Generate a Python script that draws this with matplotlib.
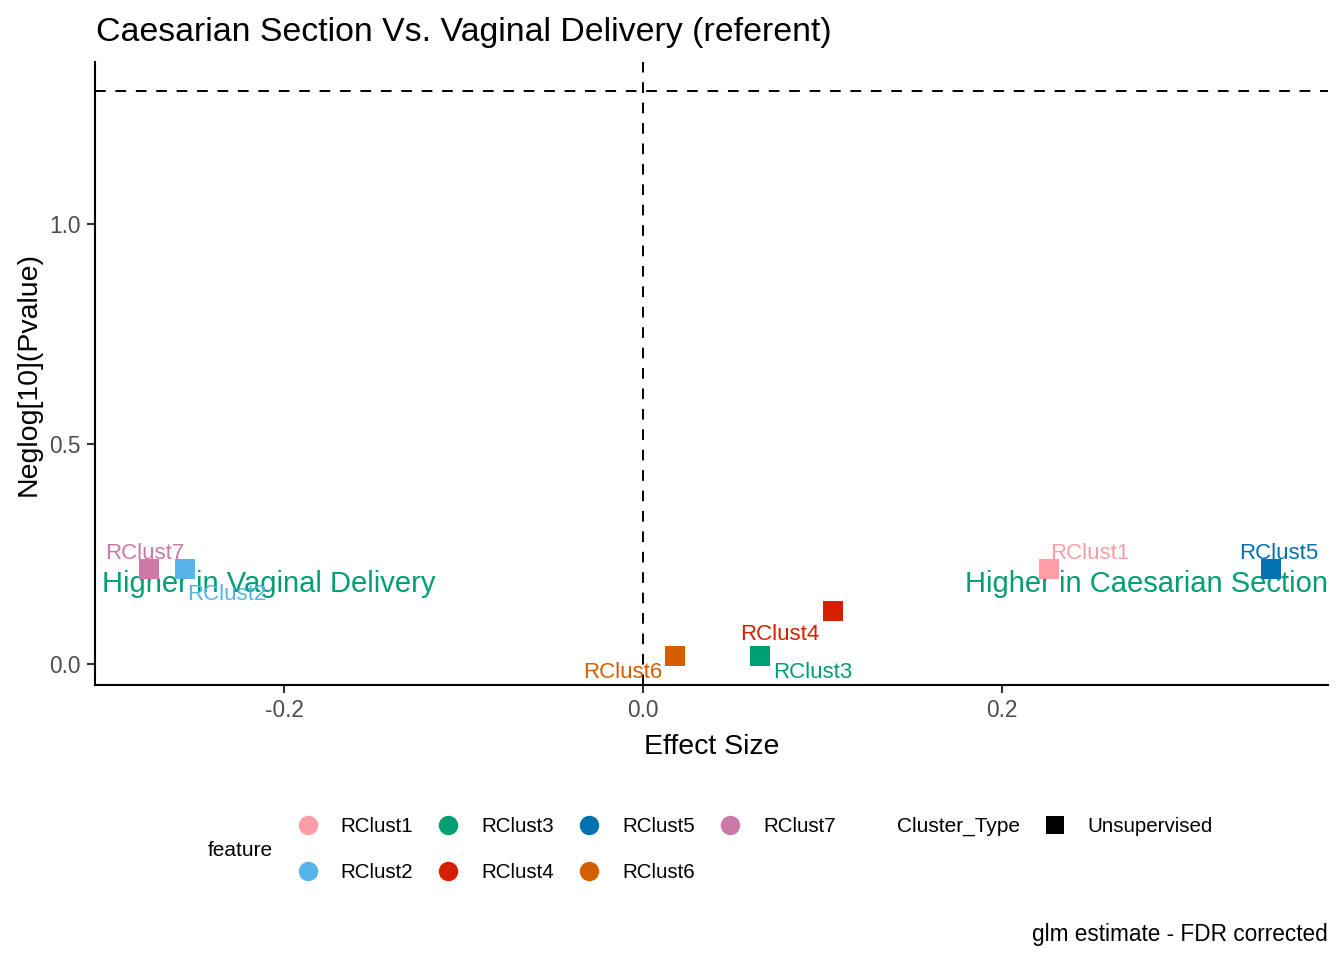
import matplotlib
matplotlib.use("Agg")
import matplotlib.pyplot as plt
from matplotlib.lines import Line2D

plt.rcParams['font.family'] = ['Liberation Sans', 'DejaVu Sans']

# -----------------------------
# Data
# -----------------------------
features = ["RClust1", "RClust2", "RClust3", "RClust4", "RClust5", "RClust6", "RClust7"]
effect = [0.226, -0.255, 0.065, 0.106, 0.350, 0.018, -0.275]
neglogp = [0.216, 0.216, 0.018, 0.120, 0.216, 0.018, 0.216]
colors = ["#FF9DA7", "#56B4E9", "#009E73", "#D52000", "#0072B2", "#D55E00", "#CC79A7"]
# label offsets (pixels) as placed by the repel step
label_dx = [41, 41, 53, -54, 7, -53, -5]
label_dy = [15, -26, -16, -23, 15, -16, 15]

x_ticks = [-0.2, 0.0, 0.2]
y_ticks = [0.0, 0.5, 1.0]
sig_line = 1.30103  # -log10(0.05)

fig = plt.figure(figsize=(13.44, 9.6), dpi=100)
ax = fig.add_axes([95 / 1344, 1 - 685 / 960, (1328 - 95) / 1344, (685 - 62) / 960])

ax.axvline(0, color="black", lw=1.4, ls=(0, (5.5, 5)), zorder=1)
ax.axhline(sig_line, color="black", lw=1.4, ls=(0, (5.5, 5)), zorder=1)

for f, x, y, c, dx, dy in zip(features, effect, neglogp, colors, label_dx, label_dy):
    ax.scatter([x], [y], marker="s", s=190, color=c, zorder=3, linewidths=0)
    ax.annotate(f, (x, y), xytext=(dx, dy), textcoords="offset pixels",
                ha="center", va="center", color=c, fontsize=16, zorder=4)

ax.text(0.006, 0.216 - 0.034, "Higher in Vaginal Delivery", transform=ax.get_yaxis_transform(),
        ha="left", va="center", color="#009E73", fontsize=21, zorder=2)
ax.text(1.0, 0.216 - 0.034, "Higher in Caesarian Section", transform=ax.get_yaxis_transform(),
        ha="right", va="center", color="#009E73", fontsize=21, zorder=2)

ax.set_xlim(-0.3053, 0.3816)
ax.set_ylim(-0.0477, 1.368)
ax.set_xticks(x_ticks)
ax.set_xticklabels([f"{v:.1f}" for v in x_ticks])
ax.set_yticks(y_ticks)
ax.set_yticklabels([f"{v:.1f}" for v in y_ticks])

for s in ["top", "right"]:
    ax.spines[s].set_visible(False)
for s in ["left", "bottom"]:
    ax.spines[s].set_linewidth(1.5)
    ax.spines[s].set_color("black")
ax.tick_params(axis="both", length=6, width=1.5, color="#333333",
               labelcolor="#4D4D4D", labelsize=16.3, pad=4)

ax.set_xlabel("Effect Size", fontsize=20.5, labelpad=9)
ax.set_ylabel("Neglog[10](Pvalue)", fontsize=20.5, labelpad=6)
fig.text(96 / 1344, 1 - 32 / 960, "Caesarian Section Vs. Vaginal Delivery (referent)",
         ha="left", va="center", fontsize=24.4)
fig.text(1328 / 1344, 1 - 935 / 960, "glm estimate - FDR corrected",
         ha="right", va="center", fontsize=16.3)

# legends
handles = [Line2D([], [], marker="o", ls="none", markersize=14, color=c, markeredgewidth=0)
           for c in colors]
fig.legend(handles, features, ncol=4, frameon=False, fontsize=14.8,
           loc="center left", bbox_to_anchor=(287 / 1344, 1 - 849.5 / 960),
           handlelength=2.0, handletextpad=0.6, columnspacing=0.72,
           labelspacing=1.3, borderaxespad=0, borderpad=0)
fig.text(208 / 1344, 1 - 850 / 960, "feature", ha="left", va="center", fontsize=15)

h2 = [Line2D([], [], marker="s", ls="none", markersize=13, color="black", markeredgewidth=0)]
fig.legend(h2, ["Unsupervised"], frameon=False, fontsize=14.8,
           loc="center left", bbox_to_anchor=(1034 / 1344, 1 - 827 / 960),
           handlelength=2.0, handletextpad=0.6, borderaxespad=0, borderpad=0)
fig.text(897 / 1344, 1 - 826 / 960, "Cluster_Type", ha="left", va="center", fontsize=15)

fig.savefig("out.png", dpi=100)
